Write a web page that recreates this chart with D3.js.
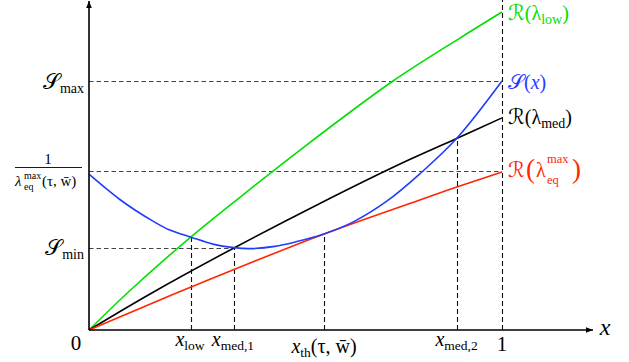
<!DOCTYPE html>
<html><head><meta charset="utf-8">
<script src="https://cdn.jsdelivr.net/npm/d3@7"></script>
<style>
html,body{margin:0;padding:0;background:#fff;}
text{font-family:"Liberation Serif","DejaVu Serif",serif;}
</style></head>
<body><svg id="c" width="629" height="362"></svg>
<script>
// ---- data ----
const greenX = [0, 0.1, 0.247, 0.366, 0.511, 0.736, 0.898, 1];
const greenY = [0, 0.125, 0.293, 0.418, 0.566, 0.783, 0.918, 1];
const blackX = [0, 0.15, 0.351, 0.559, 0.753, 0.89, 1];
const blackY = [0, 0.115, 0.258, 0.398, 0.522, 0.602, 0.667];
const redX = [0, 0.2, 0.366, 0.569, 0.801, 0.894, 1];
const redY = [0, 0.11, 0.198, 0.302, 0.409, 0.451, 0.497];
const blueX = [0, 0.041, 0.073, 0.114, 0.154, 0.194, 0.247, 0.30, 0.351, 0.39, 0.45, 0.5, 0.569, 0.640, 0.721, 0.801, 0.890, 1];
const blueY = [0.490, 0.445, 0.412, 0.375, 0.343, 0.315, 0.292, 0.270, 0.259, 0.256, 0.263, 0.277, 0.302, 0.340, 0.405, 0.491, 0.602, 0.783];
const markX = [0.247, 0.351, 0.569, 0.89, 1];
const markTop = [0.293, 0.259, 0.302, 0.602, 1.04];
const levelY = [0.783, 0.500, 0.257];
const levelEnd = [1, 1, 0.351];

const COL = {green:"#00e000", blue:"#1f3cff", red:"#ff2600", black:"#000"};

const svg = d3.select("#c");
const x = d3.scaleLinear([0,1],[89,502]);
const y = d3.scaleLinear([0,1],[330,12]);
const px = v => Math.round(x(v)) + 0.5;
const py = v => Math.round(y(v)) + 0.5;

// horizontal dashed levels
svg.selectAll("line.lev").data(levelY).join("line")
  .attr("x1", x(0)).attr("x2",(d,i)=>x(levelEnd[i]))
  .attr("y1", d=>py(d)).attr("y2", d=>py(d))
  .attr("stroke","#444").attr("stroke-width",1.1).attr("stroke-dasharray","4.5,3");
// vertical dashed markers
svg.selectAll("line.mk").data(markX).join("line")
  .attr("x1", d=>px(d)).attr("x2", d=>px(d))
  .attr("y1", y(0)).attr("y2",(d,i)=>y(markTop[i]))
  .attr("stroke","#111").attr("stroke-width",1.1).attr("stroke-dasharray","5,3");

const line = d3.line().x(d=>x(d[0])).y(d=>y(d[1])).curve(d3.curveCatmullRom.alpha(0.5));
const series = [
  [greenX, greenY, COL.green],
  [blackX, blackY, COL.black],
  [redX, redY, COL.red],
  [blueX, blueY, COL.blue]
];
series.forEach(([xs, ys, c])=>{
  svg.append("path").datum(xs.map((v,i)=>[v, ys[i]]))
    .attr("d", line).attr("fill","none").attr("stroke", c).attr("stroke-width",1.6);
});

// axes with arrows
svg.append("defs").append("marker").attr("id","arr")
  .attr("viewBox","0 0 10 10").attr("refX",10).attr("refY",5)
  .attr("markerWidth",8).attr("markerHeight",7).attr("orient","auto")
  .attr("markerUnits","userSpaceOnUse")
  .append("path").attr("d","M0,1 L10,5 L0,9 Z").attr("fill","#000");
svg.append("line").attr("x1",x(0)).attr("y1",y(0)).attr("x2",593).attr("y2",y(0))
  .attr("stroke","#000").attr("stroke-width",1.6).attr("marker-end","url(#arr)");
svg.append("line").attr("x1",x(0)).attr("y1",y(0)).attr("x2",x(0)).attr("y2",1)
  .attr("stroke","#000").attr("stroke-width",1.6).attr("marker-end","url(#arr)");

// label helper
function label(lx, ly, parts, opt={}){
  const t = svg.append("text").attr("x",lx).attr("y",ly)
    .attr("text-anchor", opt.anchor||"start").attr("fill", opt.color||"#000");
  let cur = 0;
  parts.forEach(p=>{
    const ts = t.append("tspan").text(p.t).attr("font-size", p.s||18);
    if(p.i) ts.attr("font-style","italic");
    if(p.f) ts.attr("font-family", p.f);
    const off = p.dy||0;
    if(off!==cur){ ts.attr("dy", off-cur); cur = off; }
  });
  return t;
}
const SC = "'DejaVu Serif','DejaVu Sans',serif";

// tick labels
label(x(0)-13, 350, [{t:"0", s:21}], {anchor:"middle"});
label(x(1), 351, [{t:"1", s:21}], {anchor:"middle"});
label(605, 335, [{t:"x", s:24, i:true}], {anchor:"middle"});
label(x(0.247)-1, 346, [{t:"x", s:20, i:true},{t:"low", s:13.5, dy:4}], {anchor:"middle"});
label(x(0.351)-1, 346, [{t:"x", s:20, i:true},{t:"med,1", s:13.5, dy:4}], {anchor:"middle"});
label(x(0.569), 353, [{t:"x", s:20, i:true},{t:"th", s:13.5, dy:4},{t:"(τ, w̄)", s:20, dy:0}], {anchor:"middle"});
label(x(0.89), 346, [{t:"x", s:20, i:true},{t:"med,2", s:13.5, dy:4}], {anchor:"middle"});

// left labels
label(84, 89, [{t:"𝒮", s:22, f:SC},{t:"max", s:14, dy:4}], {anchor:"end"});
label(84, 255, [{t:"𝒮", s:22, f:SC},{t:"min", s:14, dy:4}], {anchor:"end"});
label(48, 164, [{t:"1", s:15}], {anchor:"middle"});
svg.append("line").attr("x1",15).attr("x2",82).attr("y1",167.5).attr("y2",167.5)
  .attr("stroke","#000").attr("stroke-width",0.9);
label(15, 186, [{t:"λ", s:15, i:true}]);
label(24, 190, [{t:"eq", s:10}]);
label(24, 179, [{t:"max", s:10}]);
label(42, 186, [{t:"(τ, w̄)", s:15}]);

// right labels
label(508, 20, [{t:"ℛ", s:21, f:SC},{t:"(λ", s:20},{t:"low", s:14, dy:4},{t:")", s:20, dy:0}], {color:COL.green});
label(508, 89, [{t:"𝒮", s:21, f:SC},{t:"(", s:20},{t:"x", s:20, i:true},{t:")", s:20}], {color:COL.blue});
label(508, 124, [{t:"ℛ", s:21, f:SC},{t:"(λ", s:20},{t:"med", s:14, dy:4},{t:")", s:20, dy:0}], {color:COL.black});
label(508, 177, [{t:"ℛ", s:21, f:SC}], {color:COL.red});
label(526, 178, [{t:"(", s:27}], {color:COL.red});
label(536, 177, [{t:"λ", s:20}], {color:COL.red});
label(547, 184, [{t:"eq", s:12.5}], {color:COL.red});
label(547, 163, [{t:"max", s:12.5}], {color:COL.red});
label(572, 178, [{t:")", s:27}], {color:COL.red});
</script></body></html>
